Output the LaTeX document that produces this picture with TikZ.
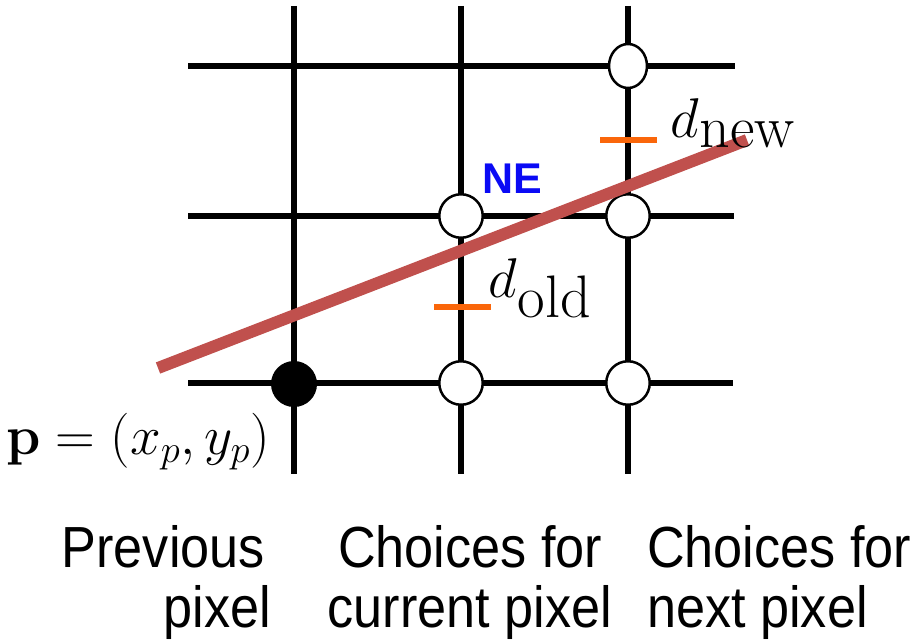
\RequirePackage{fix-cm}
\documentclass[tikz,border=0pt]{standalone}
\usepackage{fontspec}
\setmainfont{Latin Modern Roman}
\newfontfamily\labelsans[FakeStretch=0.9]{Liberation Sans}
\newfontfamily\nefont{Liberation Sans}
\usetikzlibrary{shapes.geometric}
\definecolor{linered}{RGB}{192,80,77}
\definecolor{tickorange}{RGB}{250,102,10}
\definecolor{neblue}{RGB}{10,10,245}
\begin{document}
\begin{tikzpicture}[x=1pt,y=-1pt,
  gridline/.style={line width=5.5pt,black},
  opendot/.style={circle,draw=black,line width=2.5pt,fill=white,minimum size=43.5pt,inner sep=0pt},
  topdot/.style={ellipse,draw=black,line width=2.5pt,fill=white,minimum width=38pt,minimum height=44pt,inner sep=0pt},
  filldot/.style={circle,fill=black,minimum size=46pt,inner sep=0pt},
  sampleline/.style={line width=12pt,linered},
  distick/.style={line width=6.5pt,tickorange},
  mathlabel/.style={inner sep=0pt,font=\fontsize{56}{60}\selectfont},
  caption/.style={inner sep=0pt,font=\labelsans\fontsize{58}{60}\selectfont}]
\useasboundingbox (0,0) rectangle (920,642);
% grid coordinates
\coordinate (v1t) at (294,6);   \coordinate (v1b) at (294,474);
\coordinate (v2t) at (461,6);   \coordinate (v2b) at (461,474);
\coordinate (v3t) at (628,6);   \coordinate (v3b) at (628,474);
\coordinate (h1l) at (188,66);  \coordinate (h1r) at (735,66);
\coordinate (h2l) at (188,216); \coordinate (h2r) at (734,216);
\coordinate (h3l) at (188,383); \coordinate (h3r) at (733,383);
\draw[gridline] (v1t) -- (v1b);
\draw[gridline] (v2t) -- (v2b);
\draw[gridline] (v3t) -- (v3b);
\draw[gridline] (h1l) -- (h1r);
\draw[gridline] (h2l) -- (h2r);
\draw[gridline] (h3l) -- (h3r);
% pixels
\node[filldot] (prev) at (294,384) {};
\node[opendot] (ne) at (461,216) {};
\node[opendot] (e) at (461,383) {};
\node[topdot] (nne) at (628,66) {};
\node[opendot] (nne2) at (628,216) {};
\node[opendot] (ene) at (628,383) {};
% line
\coordinate (ls) at (158,368);
\coordinate (le) at (747,140);
\draw[sampleline] (ls) -- (le);
% distance ticks
\coordinate (t1a) at (600,140); \coordinate (t1b) at (657,140);
\coordinate (t2a) at (434,307); \coordinate (t2b) at (491,307);
\draw[distick] (t1a) -- (t1b);
\draw[distick] (t2a) -- (t2b);
% labels
\node[mathlabel,anchor=base west] (dnew) at (670,137)
  {$d$\kern1pt\raisebox{-10pt}{\fontsize{60}{64}\selectfont new}};
\node[mathlabel,anchor=base west] (dold) at (488,297)
  {$d$\kern1pt\raisebox{-20pt}{\fontsize{60}{64}\selectfont old}};
\node[inner sep=0pt,anchor=base west,text=neblue,font=\nefont\bfseries\fontsize{43}{48}\selectfont] (nelab) at (482,193) {NE};
\node[inner sep=0pt,anchor=base west,font=\fontsize{55}{60}\selectfont] (plab) at (6,454) {$\mathbf{p}=(x_p,y_p)$};
% captions (anchor = baseline of last line)
\node[caption,align=right,anchor=base east] (cap1) at (271,627) {Previous\kern6pt\\pixel};
\node[caption,align=center,anchor=base] (cap2) at (470,627) {Choices for\\current pixel};
\node[caption,align=left,anchor=base west] (cap3) at (647,627) {Choices for\\next pixel};
\end{tikzpicture}
\end{document}
